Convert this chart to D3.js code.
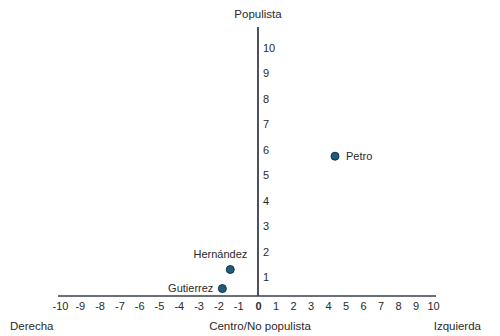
<!DOCTYPE html>
<html><head><meta charset="utf-8">
<script src="https://cdn.jsdelivr.net/npm/d3@7"></script>
<style>body{margin:0;background:#fff}svg{display:block}text{font-family:"Liberation Sans",Arial,sans-serif;fill:#2a2a2a}</style>
</head><body><svg id="c" width="500" height="336"></svg>
<script>
const names = ["Petro", "Hernández", "Gutierrez"];
const xValues = [4.4, -1.4, -1.8];
const yValues = [5.75, 1.3, 0.55];
const xTicks = [-10,-9,-8,-7,-6,-5,-4,-3,-2,-1,0,1,2,3,4,5,6,7,8,9,10];
const yTicks = [1,2,3,4,5,6,7,8,9,10];
const labels = {top:"Populista", bottom:"Centro/No populista", left:"Derecha", right:"Izquierda"};

const svg = d3.select("#c");
const x = d3.scaleLinear().domain([-10,0,10]).range([60,258,433]);
const y = d3.scaleLinear().domain([0,10]).range([302.6,48]);
const axisY = 296;
const font = "'Liberation Sans',Arial,sans-serif";

// axis lines
svg.append("line").attr("x1",x(-10)-2).attr("x2",x(10)+3).attr("y1",axisY).attr("y2",axisY)
  .attr("stroke","#3a3f4a").attr("stroke-width",1.6);
svg.append("line").attr("x1",x(0)).attr("x2",x(0)).attr("y1",27).attr("y2",axisY)
  .attr("stroke","#3a3f4a").attr("stroke-width",1.8);

// x tick labels
const gx = svg.append("g").attr("transform",`translate(0,${axisY})`)
  .call(d3.axisBottom(x).tickValues(xTicks).tickSize(0).tickPadding(6).tickFormat(d=>String(d)));
gx.select(".domain").remove();
gx.selectAll("text").style("font-size","11px").style("font-family",font)
  .attr("fill","#2a2a2a").style("font-weight",d=>d===0?"700":"400");

// y tick labels
const gy = svg.append("g").attr("transform",`translate(${x(0)},0)`)
  .call(d3.axisRight(y).tickValues(yTicks).tickSize(0).tickPadding(5));
gy.select(".domain").remove();
gy.selectAll("text").style("font-size","11px").style("font-family",font).attr("fill","#2a2a2a");

// points
const pts = names.map((n,i)=>({n, x:xValues[i], y:yValues[i]}));
svg.selectAll("circle.p").data(pts).join("circle")
  .attr("cx",d=>x(d.x)).attr("cy",d=>y(d.y)).attr("r",4)
  .attr("fill","#1e5b7c").attr("stroke","#10344a").attr("stroke-width",1);

// point labels
const lab = [
  {dx:11, dy:4, anchor:"start"},
  {dx:17, dy:-12, anchor:"end"},
  {dx:-9, dy:3, anchor:"end"}
];
svg.selectAll("text.pl").data(pts).join("text").attr("class","pl")
  .attr("x",(d,i)=>x(d.x)+lab[i].dx).attr("y",(d,i)=>y(d.y)+lab[i].dy)
  .attr("text-anchor",(d,i)=>lab[i].anchor).style("font-size","11px").text(d=>d.n);

// axis titles
svg.append("text").attr("x",x(0)).attr("y",18).attr("text-anchor","middle").style("font-size","11.5px").text(labels.top);
svg.append("text").attr("x",x(0)+2).attr("y",330).attr("text-anchor","middle").style("font-size","11.5px").text(labels.bottom);
svg.append("text").attr("x",10).attr("y",330).attr("text-anchor","start").style("font-size","11.5px").text(labels.left);
svg.append("text").attr("x",481).attr("y",330).attr("text-anchor","end").style("font-size","11.5px").text(labels.right);
</script></body></html>
